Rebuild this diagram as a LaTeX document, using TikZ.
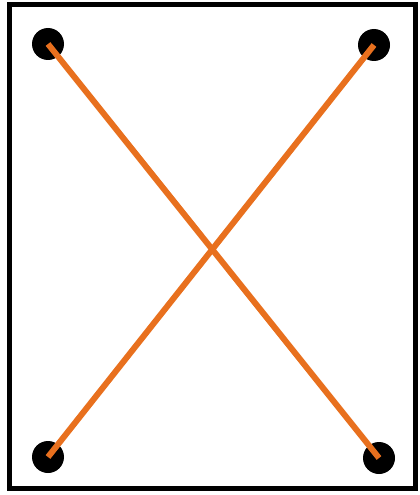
\documentclass[tikz,border=0pt]{standalone}
\usetikzlibrary{positioning}
\definecolor{lineorange}{RGB}{232, 112, 30}
\tikzset{
    dot/.style={circle, fill=black, inner sep=0pt, minimum size=32pt},
    cross/.style={draw=lineorange, line width=6pt}
}
\begin{document}
\begin{tikzpicture}[x=1pt, y=-1pt]
        \useasboundingbox (0,0) rectangle (420,495);
        \draw[line width=5pt] (9.5,4.5) rectangle (415.5,488.5);

        \node[dot] (tl) at (48,44) {};
        \node[dot] (tr) at (374,45) {};
        \node[dot] (bl) at (48,457) {};
        \node[dot] (br) at (379,458) {};

        \draw[cross] (tl.center) -- (br.center);
        \draw[cross] (tr.center) -- (bl.center);
\end{tikzpicture}
\end{document}
